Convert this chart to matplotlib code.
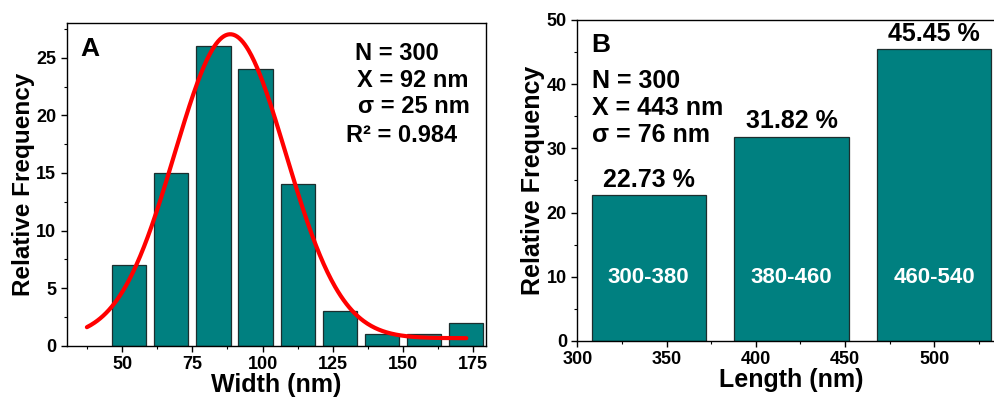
import numpy as np
import matplotlib
matplotlib.use("Agg")
import matplotlib.pyplot as plt
from matplotlib.ticker import MultipleLocator

plt.rcParams['font.family'] = ['Liberation Sans', 'DejaVu Sans']
plt.rcParams['font.weight'] = 'bold'

# ---- Panel A: width histogram ----
width_centers = [52.5, 67.5, 82.5, 97.5, 112.5, 127.5, 142.5, 157.5, 172.5]
width_freq = [7, 15, 26, 24, 14, 3, 1, 1, 2]
# Gaussian fit parameters (offset, amplitude, centre, sigma) and fitted range
fit_y0, fit_amp, fit_xc, fit_w = 0.65, 26.4, 88.5, 19.8
fit_range = (37.5, 172.5)

# ---- Panel B: length histogram ----
length_centers = [340, 420, 500]
length_freq = [22.73, 31.82, 45.45]
length_bins = ['300-380', '380-460', '460-540']

BAR = '#008080'
EDGE = '#1c2e2e'

fig = plt.figure(figsize=(9.95, 3.99), dpi=100)
axA = fig.add_axes([0.067, 0.1336, 0.4214, 0.808])
axB = fig.add_axes([0.5802, 0.1454, 0.4306, 0.8045])

def style(ax):
    for s in ax.spines.values():
        s.set_linewidth(1.0)
    ax.tick_params(which='major', direction='out', length=4.5, width=1.0,
                   labelsize=13, pad=3)
    ax.tick_params(which='minor', direction='out', length=2.5, width=0.8)
    for lab in ax.get_xticklabels() + ax.get_yticklabels():
        lab.set_fontweight('bold')

# Panel A
axA.bar(width_centers, width_freq, width=12.2, color=BAR, edgecolor=EDGE,
        linewidth=0.9, zorder=2)
xf = np.linspace(fit_range[0], fit_range[1], 400)
yf = fit_y0 + fit_amp * np.exp(-(xf - fit_xc) ** 2 / (2 * fit_w ** 2))
axA.plot(xf, yf, color='#ff0000', lw=3.0, solid_capstyle='round', zorder=3)
axA.set_xlim(30.3, 179.5)
axA.set_ylim(0, 28)
axA.xaxis.set_major_locator(MultipleLocator(25))
axA.xaxis.set_minor_locator(MultipleLocator(12.5))
axA.yaxis.set_major_locator(MultipleLocator(5))
axA.yaxis.set_minor_locator(MultipleLocator(2.5))
style(axA)
axA.set_xlabel('Width (nm)', fontsize=18, fontweight='bold', labelpad=0)
axA.set_ylabel('Relative Frequency', fontsize=17.5, fontweight='bold', labelpad=1)
axA.text(80 / 995, 1 - 56 / 399, 'A', transform=fig.transFigure, fontsize=19,
         fontweight='bold', va='baseline', ha='left')
statsA = [('N = 300', 355), ('X = 92 nm', 357), ('σ = 25 nm', 358),
          ('R² = 0.984', 346.5)]
baselinesA = [60, 86.7, 113.3, 141.7]
for (txt, px), by in zip(statsA, baselinesA):
    axA.text(px / 995, 1 - by / 399, txt, transform=fig.transFigure,
             fontsize=17, fontweight='bold', ha='left', va='baseline')

# Panel B
axB.bar(length_centers, length_freq, width=64, color=BAR, edgecolor=EDGE,
        linewidth=0.9, zorder=2)
for xc, v, lab in zip(length_centers, length_freq, length_bins):
    axB.text(xc, v + 0.5, f'{v:.2f} %', ha='center', va='bottom',
             fontsize=18, fontweight='bold')
    axB.text(xc, 9.1, lab, ha='center', va='baseline', color='white',
             fontsize=16, fontweight='bold')
axB.set_xlim(300, 540)
axB.set_ylim(0, 50)
axB.xaxis.set_major_locator(MultipleLocator(50))
axB.xaxis.set_minor_locator(MultipleLocator(25))
axB.yaxis.set_major_locator(MultipleLocator(10))
axB.yaxis.set_minor_locator(MultipleLocator(5))
style(axB)
axB.spines['right'].set_visible(False)
axB.set_xlabel('Length (nm)', fontsize=18, fontweight='bold', labelpad=0)
axB.set_ylabel('Relative Frequency', fontsize=18, fontweight='bold', labelpad=1.5)
axB.text(591 / 995, 1 - 51.7 / 399, 'B', transform=fig.transFigure,
         fontsize=19, fontweight='bold', ha='left', va='baseline')
statsB = ['N = 300', 'X = 443 nm', 'σ = 76 nm']
baselinesB = [88.3, 115, 141.7]
for txt, by in zip(statsB, baselinesB):
    axB.text(592 / 995, 1 - by / 399, txt, transform=fig.transFigure,
             fontsize=18, fontweight='bold', ha='left', va='baseline')

fig.savefig('out.png', dpi=100)
